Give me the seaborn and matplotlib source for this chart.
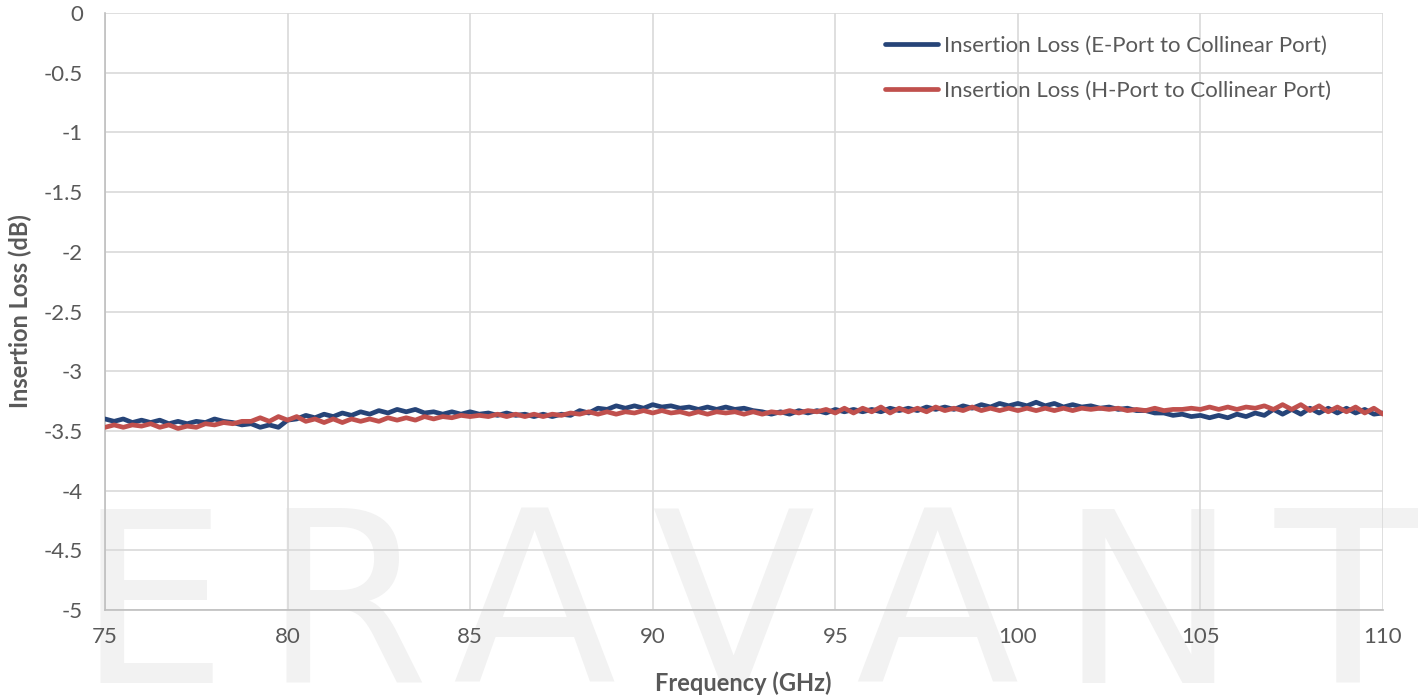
import numpy as np
import pandas as pd
import matplotlib
matplotlib.use("Agg")
import matplotlib.pyplot as plt
from matplotlib.ticker import MultipleLocator, FuncFormatter
import seaborn as sns

# ---- data (0.25 GHz sweep grid) ----
freq_ghz = np.arange(75.0, 110.0001, 0.25)

loss_e_port = [
    -3.40, -3.42, -3.40, -3.43,   # 75
    -3.41, -3.43, -3.41, -3.44,   # 76
    -3.42, -3.44, -3.42, -3.43,   # 77
    -3.40, -3.42, -3.43, -3.45,   # 78
    -3.44, -3.47, -3.45, -3.47,   # 79
    -3.41, -3.40, -3.37, -3.39,   # 80
    -3.36, -3.38, -3.35, -3.37,   # 81
    -3.34, -3.36, -3.33, -3.35,   # 82
    -3.32, -3.34, -3.32, -3.35,   # 83
    -3.34, -3.36, -3.34, -3.36,   # 84
    -3.34, -3.36, -3.35, -3.37,   # 85
    -3.35, -3.37, -3.36, -3.38,   # 86
    -3.36, -3.38, -3.36, -3.37,   # 87
    -3.33, -3.35, -3.31, -3.32,   # 88
    -3.29, -3.31, -3.29, -3.31,   # 89
    -3.28, -3.30, -3.29, -3.31,   # 90
    -3.30, -3.32, -3.30, -3.32,   # 91
    -3.30, -3.32, -3.31, -3.33,   # 92
    -3.34, -3.36, -3.34, -3.36,   # 93
    -3.33, -3.35, -3.33, -3.35,   # 94
    -3.32, -3.34, -3.32, -3.34,   # 95
    -3.32, -3.34, -3.31, -3.33,   # 96
    -3.31, -3.33, -3.30, -3.32,   # 97
    -3.30, -3.32, -3.29, -3.31,   # 98
    -3.28, -3.30, -3.27, -3.29,   # 99
    -3.27, -3.29, -3.26, -3.29,   # 100
    -3.27, -3.30, -3.28, -3.30,   # 101
    -3.29, -3.31, -3.30, -3.32,   # 102
    -3.31, -3.33, -3.33, -3.35,   # 103
    -3.35, -3.37, -3.36, -3.38,   # 104
    -3.37, -3.39, -3.37, -3.39,   # 105
    -3.36, -3.38, -3.35, -3.37,   # 106
    -3.32, -3.36, -3.32, -3.36,   # 107
    -3.31, -3.35, -3.31, -3.35,   # 108
    -3.31, -3.35, -3.32, -3.36,   # 109
    -3.35,                        # 110
]

loss_h_port = [
    -3.47, -3.45, -3.47, -3.45,   # 75
    -3.46, -3.44, -3.47, -3.45,   # 76
    -3.48, -3.46, -3.47, -3.44,   # 77
    -3.45, -3.43, -3.44, -3.42,   # 78
    -3.42, -3.39, -3.42, -3.38,   # 79
    -3.41, -3.38, -3.42, -3.40,   # 80
    -3.43, -3.40, -3.43, -3.40,   # 81
    -3.42, -3.40, -3.42, -3.39,   # 82
    -3.41, -3.39, -3.41, -3.38,   # 83
    -3.40, -3.38, -3.39, -3.37,   # 84
    -3.38, -3.37, -3.38, -3.36,   # 85
    -3.38, -3.36, -3.38, -3.36,   # 86
    -3.38, -3.36, -3.37, -3.35,   # 87
    -3.36, -3.34, -3.36, -3.34,   # 88
    -3.36, -3.34, -3.35, -3.33,   # 89
    -3.35, -3.33, -3.35, -3.34,   # 90
    -3.36, -3.34, -3.36, -3.34,   # 91
    -3.35, -3.34, -3.36, -3.34,   # 92
    -3.36, -3.34, -3.35, -3.33,   # 93
    -3.35, -3.33, -3.34, -3.32,   # 94
    -3.35, -3.31, -3.35, -3.31,   # 95
    -3.34, -3.30, -3.35, -3.31,   # 96
    -3.34, -3.31, -3.34, -3.30,   # 97
    -3.33, -3.31, -3.33, -3.30,   # 98
    -3.33, -3.31, -3.33, -3.31,   # 99
    -3.33, -3.31, -3.33, -3.31,   # 100
    -3.33, -3.31, -3.33, -3.31,   # 101
    -3.32, -3.31, -3.32, -3.31,   # 102
    -3.33, -3.32, -3.33, -3.31,   # 103
    -3.33, -3.32, -3.32, -3.31,   # 104
    -3.32, -3.30, -3.32, -3.30,   # 105
    -3.32, -3.30, -3.31, -3.29,   # 106
    -3.32, -3.28, -3.32, -3.28,   # 107
    -3.33, -3.29, -3.34, -3.30,   # 108
    -3.34, -3.30, -3.35, -3.31,   # 109
    -3.36,                        # 110
]

series_names = [
    "Insertion Loss (E-Port to Collinear Port)",
    "Insertion Loss (H-Port to Collinear Port)",
]
series_colors = ["#264478", "#C0504D"]
x_label = "Frequency (GHz)"
y_label = "Insertion Loss (dB)"
watermark = "ERAVANT"

df = pd.concat([
    pd.DataFrame({"freq": freq_ghz, "loss": loss_e_port, "series": series_names[0]}),
    pd.DataFrame({"freq": freq_ghz, "loss": loss_h_port, "series": series_names[1]}),
], ignore_index=True)

# ---- style ----
sns.set_theme(style="white")
plt.rcParams["font.family"] = ["Lato", "DejaVu Sans"]
plt.rcParams["axes.unicode_minus"] = False

text_grey = "#595959"
grid_grey = "#D9D9D9"
axis_grey = "#BFBFBF"

fig = plt.figure(figsize=(14.18, 7.0), dpi=100)
fig.patch.set_facecolor("white")

# background watermark axes (drawn beneath the chart)
bg = fig.add_axes([0, 0, 1, 1], zorder=-5)
bg.set_axis_off()
bg.set_xlim(0, 1418)
bg.set_ylim(700, 0)
wm_left_px = [77, 262, 452, 651, 855, 1058, 1275]
for letter, xp in zip(watermark, wm_left_px):
    bg.text(xp, 683, letter, fontsize=172, color="#F2F2F2", fontweight="medium",
            ha="left", va="baseline", family="DejaVu Sans")

ax = fig.add_axes([105 / 1418, 1 - 610 / 700, (1383 - 105) / 1418, (610 - 13) / 700], zorder=1)
ax.patch.set_alpha(0)

sns.lineplot(data=df, x="freq", y="loss", hue="series", palette=series_colors,
             hue_order=series_names, linewidth=3.4, ax=ax, legend=False, zorder=3)

ax.set_xlim(75, 110)
ax.set_ylim(-5, 0)
ax.xaxis.set_major_locator(MultipleLocator(5))
ax.xaxis.set_minor_locator(MultipleLocator(1))
ax.yaxis.set_major_locator(MultipleLocator(0.5))
ax.yaxis.set_minor_locator(MultipleLocator(0.1))
ax.yaxis.set_major_formatter(FuncFormatter(lambda v, p: f"{v:g}"))
ax.xaxis.set_major_formatter(FuncFormatter(lambda v, p: f"{v:g}"))

ax.grid(True, which="major", color=grid_grey, linewidth=1.2, zorder=1)
ax.set_axisbelow(True)
for side in ["top", "right"]:
    ax.spines[side].set_visible(False)
for side in ["left", "bottom"]:
    ax.spines[side].set_color(axis_grey)
    ax.spines[side].set_linewidth(1.2)

ax.tick_params(axis="both", which="major", length=0, labelsize=16, labelcolor=text_grey)
ax.tick_params(axis="y", which="major", pad=16)
ax.tick_params(axis="x", which="major", pad=12)
ax.tick_params(axis="both", which="minor", direction="in", length=4, width=1, color=axis_grey)

ax.set_xlabel(x_label, fontsize=17, fontweight="bold", color=text_grey)
ax.set_ylabel(y_label, fontsize=17, fontweight="bold", color=text_grey)
ax.xaxis.set_label_coords((743 - 105) / 1278, (610 - 683) / 597)
ax.yaxis.set_label_coords((20 - 105) / 1278, 0.5)
ax.xaxis.label.set_va("center")
ax.yaxis.label.set_va("center")

handles = [plt.Line2D([], [], color=c, linewidth=3.4) for c in series_colors]
leg = ax.legend(handles, series_names, loc="upper left",
                bbox_to_anchor=((885 - 105) / 1278, (610 - 36) / 597),
                frameon=False, fontsize=16, handlelength=2.4, handletextpad=0.25,
                labelspacing=1.1, borderpad=0, borderaxespad=0)
for t in leg.get_texts():
    t.set_color(text_grey)

fig.savefig("out.png", dpi=100, facecolor="white")
